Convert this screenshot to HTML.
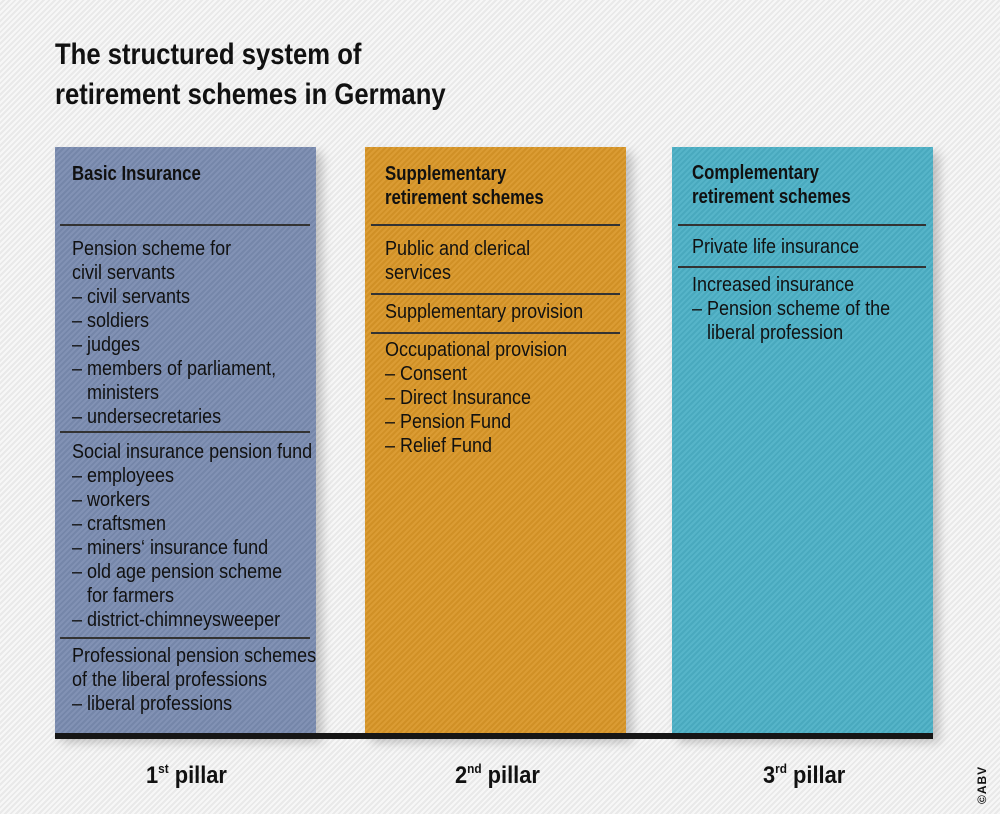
<!DOCTYPE html>
<html><head><meta charset="utf-8"><style>
body{margin:0;width:1000px;height:814px;overflow:hidden;background:#f1f1f1;
background-image:repeating-linear-gradient(135deg,#f7f7f7 0 2px,#e9e9e9 2px 4px);
font-family:"Liberation Sans",sans-serif;color:#111;position:relative}
.col{position:absolute;top:147px;height:589px;width:261px;box-shadow:6px 6px 10px rgba(0,0,0,.22);
background-image:repeating-linear-gradient(135deg,rgba(255,255,255,.06) 0 2px,rgba(0,0,0,.04) 2px 4px)}
.t{position:absolute;font-size:20px;line-height:24px;white-space:pre;transform:scaleX(.9);transform-origin:0 0}
.h{font-weight:bold;transform:scaleX(.84)}
.hr{position:absolute;height:1.5px;background:#333}
.title{position:absolute;left:55px;font-size:30px;font-weight:bold;line-height:40px;white-space:pre;transform:scaleX(.855);transform-origin:0 0}
.p{position:absolute;top:753px;font-size:24px;font-weight:bold;line-height:32px;transform:scaleX(.91);transform-origin:0 0}
.p sup{font-size:13px;vertical-align:10px}
</style></head><body>
<div class="title" style="top:35px">The structured system of</div>
<div class="title" style="top:75px">retirement schemes in Germany</div>

<div class="col" style="left:55px;background-color:#7a8bb0"></div>
<div class="col" style="left:365px;background-color:#d99627"></div>
<div class="col" style="left:672px;background-color:#4cb0c6"></div>
<div style="position:absolute;left:55px;top:733px;width:878px;height:6px;background:#161616"></div>

<!-- col1 -->
<div class="t h" style="left:72px;top:162px">Basic Insurance</div>
<div class="hr" style="left:60px;top:224px;width:250px"></div>
<div class="t" style="left:72px;top:237px">Pension scheme for
civil servants
– civil servants
– soldiers
– judges
– members of parliament,
   ministers
– undersecretaries</div>
<div class="hr" style="left:60px;top:431px;width:250px"></div>
<div class="t" style="left:72px;top:440px">Social insurance pension fund
– employees
– workers
– craftsmen
– miners‘ insurance fund
– old age pension scheme
   for farmers
– district-chimneysweeper</div>
<div class="hr" style="left:60px;top:637px;width:250px"></div>
<div class="t" style="left:72px;top:644px">Professional pension schemes
of the liberal professions
– liberal professions</div>

<!-- col2 -->
<div class="t h" style="left:385px;top:162px">Supplementary
retirement schemes</div>
<div class="hr" style="left:371px;top:224px;width:249px"></div>
<div class="t" style="left:385px;top:237px">Public and clerical
services</div>
<div class="hr" style="left:371px;top:293px;width:249px"></div>
<div class="t" style="left:385px;top:300px">Supplementary provision</div>
<div class="hr" style="left:371px;top:332px;width:249px"></div>
<div class="t" style="left:385px;top:338px">Occupational provision
– Consent
– Direct Insurance
– Pension Fund
– Relief Fund</div>

<!-- col3 -->
<div class="t h" style="left:692px;top:161px">Complementary
retirement schemes</div>
<div class="hr" style="left:678px;top:224px;width:248px"></div>
<div class="t" style="left:692px;top:235px">Private life insurance</div>
<div class="hr" style="left:678px;top:266px;width:248px"></div>
<div class="t" style="left:692px;top:273px">Increased insurance
– Pension scheme of the
   liberal profession</div>

<div class="p" style="left:146px">1<sup>st</sup> pillar</div>
<div class="p" style="left:455px">2<sup>nd</sup> pillar</div>
<div class="p" style="left:763px">3<sup>rd</sup> pillar</div>
<div style="position:absolute;left:975px;top:804px;transform:rotate(-90deg);transform-origin:0 0;font-size:12px;font-weight:bold;letter-spacing:1px;font-family:'Liberation Sans',sans-serif;white-space:nowrap">©ABV</div>
</body></html>
